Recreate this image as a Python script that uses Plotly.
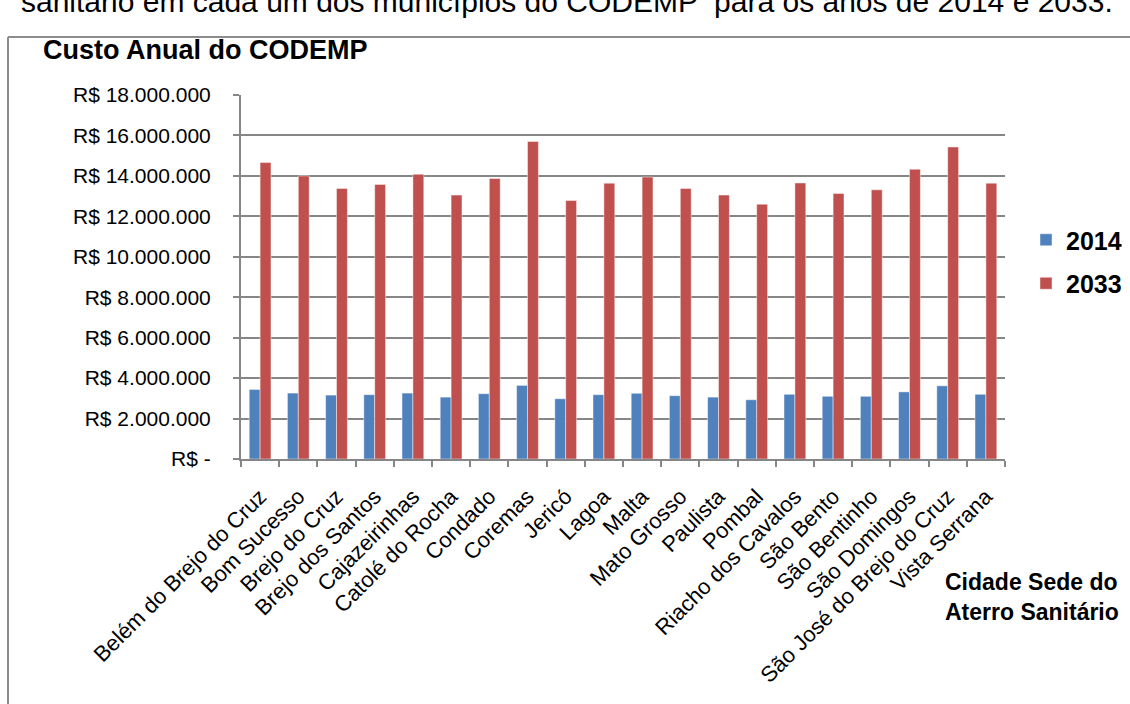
import plotly.graph_objects as go

cities = ["Belém do Brejo do Cruz", "Bom Sucesso", "Brejo do Cruz", "Brejo dos Santos",
          "Cajazeirinhas", "Catolé do Rocha", "Condado", "Coremas", "Jericó", "Lagoa",
          "Malta", "Mato Grosso", "Paulista", "Pombal", "Riacho dos Cavalos", "São Bento",
          "São Bentinho", "São Domingos", "São José do Brejo do Cruz", "Vista Serrana"]
v2014 = [3440000, 3260000, 3160000, 3180000, 3260000, 3060000, 3230000, 3640000, 2980000, 3180000,
         3250000, 3130000, 3060000, 2930000, 3200000, 3100000, 3100000, 3320000, 3620000, 3200000]
v2033 = [14660000, 14000000, 13380000, 13580000, 14080000, 13050000, 13870000, 15700000, 12780000, 13640000,
         13940000, 13380000, 13050000, 12600000, 13650000, 13130000, 13310000, 14330000, 15430000, 13640000]
tick_vals = [0, 2000000, 4000000, 6000000, 8000000, 10000000, 12000000, 14000000, 16000000, 18000000]
tick_text = ["R$ -", "R$ 2.000.000", "R$ 4.000.000", "R$ 6.000.000", "R$ 8.000.000",
             "R$ 10.000.000", "R$ 12.000.000", "R$ 14.000.000", "R$ 16.000.000", "R$ 18.000.000"]

W, H = 1130, 704
L, R, T, B = 241, 125, 95, 245
PW, PH = W - L - R, H - T - B

def px(x):
    return (x - L) / PW

def py(y):
    return (H - B - y) / PH

FONT = "Liberation Sans, Arial, sans-serif"
GRID = "#868686"

fig = go.Figure()
fig.add_trace(go.Bar(name="2014", x=cities, y=v2014, legendgroup="a",
                     marker=dict(color="#4F81BD", line=dict(color="rgba(255,255,255,0.45)", width=1))))
fig.add_trace(go.Bar(name="2033", x=cities, y=v2033, legendgroup="b",
                     marker=dict(color="#C0504D", line=dict(color="rgba(255,255,255,0.45)", width=1))))

fig.update_layout(
    width=W, height=H,
    margin=dict(l=L, r=R, t=T, b=B, autoexpand=False),
    paper_bgcolor="white", plot_bgcolor="white",
    font=dict(family=FONT, size=21, color="black"),
    barmode="group", bargap=0.43, bargroupgap=0,
    showlegend=True,
    legend=dict(x=px(1026), y=py(217), xanchor="left", yanchor="top", traceorder="grouped",
                font=dict(size=25, family=FONT, color="black", weight="bold"),
                tracegroupgap=8, itemwidth=30, bgcolor="rgba(0,0,0,0)"),
    xaxis=dict(type="category", showgrid=False, showline=True, linecolor=GRID, linewidth=2,
               ticks="outside", tickson="boundaries", ticklen=6, tickcolor=GRID, tickwidth=2,
               tickangle=-45, tickfont=dict(size=22, family=FONT, color="black"),
               ticklabelstandoff=14),
    yaxis=dict(range=[0, 18000000], tickvals=tick_vals, ticktext=tick_text,
               showgrid=True, gridcolor=GRID, gridwidth=2, showline=True, linecolor=GRID, linewidth=2,
               ticks="outside", ticklen=6, tickcolor=GRID, tickwidth=2, zeroline=False,
               tickfont=dict(size=21, family=FONT, color="black"), ticklabelstandoff=18),
)

annotations = [
    dict(text="<b>Custo Anual do CODEMP</b>", x=px(41), y=py(50), xref="paper", yref="paper",
         xanchor="left", yanchor="middle", showarrow=False, font=dict(size=27, family=FONT, color="black")),
    dict(text="<b>Cidade Sede do<br>Aterro Sanitário</b>", x=px(1121), y=py(597), xref="paper", yref="paper",
         xanchor="right", yanchor="middle", align="left", showarrow=False,
         font=dict(size=23, family=FONT, color="black")),
    dict(text="sanitário em cada um dos municípios do CODEMP  para os anos de 2014 e 2033.",
         x=px(19), y=py(20), xref="paper", yref="paper", xanchor="left", yanchor="bottom",
         showarrow=False, font=dict(size=30, family=FONT, color="black")),
]
fig.update_layout(annotations=annotations)

fig.add_shape(type="line", xref="paper", yref="paper", x0=px(8), x1=px(8), y0=py(37), y1=py(720),
              line=dict(color="#8c8c8c", width=2))
fig.add_shape(type="line", xref="paper", yref="paper", x0=px(8), x1=px(1140), y0=py(37), y1=py(37),
              line=dict(color="#8c8c8c", width=2))

fig.write_html("out.html")
